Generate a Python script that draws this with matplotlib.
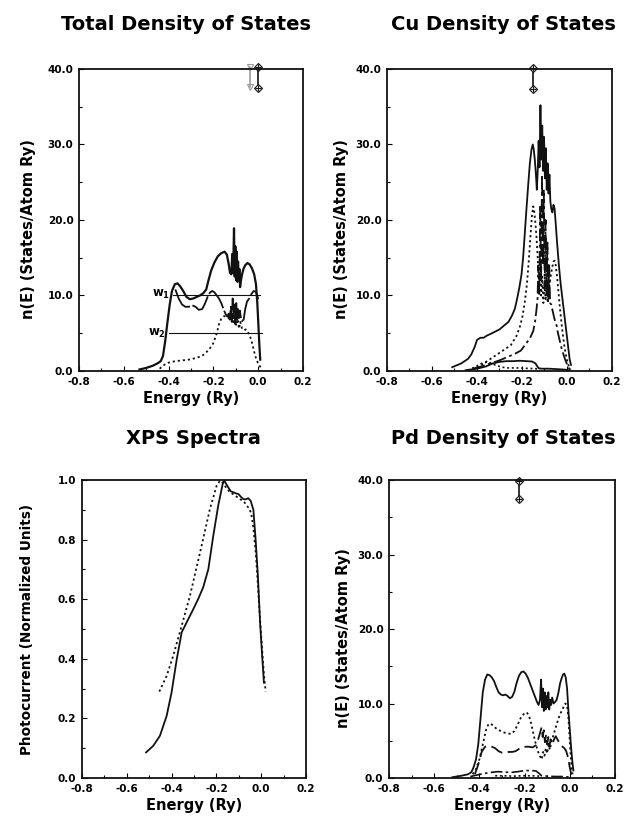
import matplotlib
matplotlib.use('Agg')
import matplotlib.pyplot as plt
from matplotlib.ticker import MultipleLocator, FormatStrFormatter
from matplotlib.transforms import ScaledTranslation

plt.rcParams['font.family'] = 'DejaVu Sans'
plt.rcParams['font.weight'] = 'bold'

#-------------------------------------------------------------------------------
# DATA

#total density of states, upper solid curve
tot_E = [-0.53, -0.50, -0.47, -0.45, -0.435, -0.425, -0.415, -0.405, -0.395, -0.385,
         -0.372, -0.36, -0.348, -0.335, -0.32, -0.305, -0.29, -0.275, -0.26, -0.245,
         -0.232, -0.222, -0.21, -0.195, -0.18, -0.165, -0.15, -0.14, -0.132, -0.126,
         -0.12, -0.116, -0.112, -0.108, -0.105, -0.102, -0.099, -0.096, -0.093, -0.09,
         -0.087, -0.084, -0.081, -0.077, -0.072, -0.066, -0.058, -0.048, -0.038, -0.028,
         -0.018, -0.01, -0.004, 0.001, 0.005, 0.009]
tot_n = [0.2, 0.4, 0.7, 1.0, 1.3, 2.0, 4.0, 6.5, 8.8, 10.6,
         11.5, 11.6, 11.2, 10.6, 9.8, 9.5, 9.6, 9.8, 10.0, 10.3,
         10.8, 12.0, 13.3, 14.4, 15.2, 15.6, 15.8, 15.4, 14.2, 13.0,
         12.8, 15.5, 13.0, 18.9, 12.5, 16.5, 12.0, 15.8, 11.8, 14.5,
         12.0, 13.5, 11.1, 12.0, 12.8, 13.5, 14.0, 14.3, 14.1, 13.6,
         12.8, 11.5, 9.0, 6.0, 3.5, 1.5]

#total density of states, lower long-dash curve
tot2_E = [-0.37, -0.355, -0.34, -0.325, -0.31, -0.295, -0.28, -0.265, -0.25, -0.238,
          -0.226, -0.215, -0.205, -0.195, -0.185, -0.175, -0.165, -0.155, -0.145, -0.138,
          -0.132, -0.127, -0.122, -0.118, -0.114, -0.11, -0.106, -0.102, -0.098, -0.094,
          -0.09, -0.086, -0.082, -0.078, -0.072, -0.065, -0.058, -0.05, -0.04, -0.03,
          -0.02, -0.012, -0.005, 0.0]
tot2_n = [10.8, 9.6, 8.8, 8.5, 8.5, 8.7, 8.5, 8.1, 8.2, 8.9,
          9.8, 10.4, 10.6, 10.4, 10.0, 9.6, 9.0, 8.2, 7.5, 7.2,
          7.6, 6.8, 8.5, 6.5, 9.6, 7.0, 8.8, 6.2, 9.0, 6.8,
          8.2, 7.0, 8.0, 7.2, 6.6, 6.8, 8.2, 9.2, 9.6, 10.2,
          10.6, 10.5, 10.1, 9.5]

#total density of states, dotted curve
totd_E = [-0.44, -0.42, -0.40, -0.37, -0.34, -0.31, -0.28, -0.25, -0.22, -0.20,
          -0.185, -0.175, -0.165, -0.155, -0.145, -0.135, -0.125, -0.118, -0.11, -0.104,
          -0.098, -0.092, -0.086, -0.08, -0.072, -0.064, -0.056, -0.048, -0.04, -0.032,
          -0.024, -0.016, -0.008, 0.0, 0.008, 0.016]
totd_n = [0.3, 0.8, 1.1, 1.3, 1.4, 1.5, 1.7, 2.0, 2.8, 3.7,
          5.0, 6.2, 6.9, 7.2, 7.3, 7.1, 6.8, 7.5, 6.2, 7.0,
          6.0, 7.2, 5.6, 6.5, 5.6, 5.4, 5.5, 5.3, 4.8, 4.2,
          3.3, 2.3, 1.5, 1.0, 0.6, 0.2]

#band width markers w1, w2
w_names = ['w$_1$', 'w$_2$']
w_level = [10.1, 5.0]
w_start = [-0.38, -0.40]
w_end = [0.008, 0.016]

#Cu density of states
cu_E = [-0.51, -0.47, -0.44, -0.425, -0.41, -0.40, -0.385, -0.37, -0.355, -0.34,
        -0.32, -0.30, -0.28, -0.26, -0.245, -0.232, -0.222, -0.212, -0.202, -0.195,
        -0.188, -0.18, -0.172, -0.165, -0.158, -0.152, -0.148, -0.143, -0.138, -0.134,
        -0.13, -0.126, -0.122, -0.118, -0.114, -0.11, -0.106, -0.102, -0.098, -0.094,
        -0.09, -0.086, -0.082, -0.078, -0.074, -0.07, -0.065, -0.06, -0.055, -0.05,
        -0.044, -0.036, -0.028, -0.02, -0.012, -0.004, 0.004, 0.012, 0.018]
cu_n = [0.5, 1.0, 1.6, 2.2, 3.2, 4.1, 4.4, 4.4, 4.7, 4.9,
        5.2, 5.5, 6.0, 6.5, 7.3, 8.2, 9.5, 11.0, 12.8, 15.0,
        18.0, 21.5, 24.8, 27.5, 29.3, 30.0, 29.4, 28.0, 26.0, 24.0,
        26.5, 30.5, 27.0, 35.2, 28.0, 32.5, 26.5, 31.0, 25.5, 29.5,
        24.0, 27.5, 23.5, 26.0, 22.5, 21.5, 21.0, 22.0, 21.5, 19.5,
        17.0, 14.0, 11.5, 9.5, 7.5, 5.5, 3.5, 1.5, 0.8]

cud_E = [-0.40, -0.37, -0.34, -0.31, -0.28, -0.25, -0.225, -0.21, -0.198, -0.188,
         -0.178, -0.17, -0.162, -0.156, -0.15, -0.145, -0.14, -0.135, -0.13, -0.125,
         -0.12, -0.115, -0.11, -0.105, -0.1, -0.095, -0.09, -0.085, -0.08, -0.075,
         -0.07, -0.065, -0.06, -0.055, -0.05, -0.044, -0.038, -0.032, -0.026, -0.02,
         -0.014, -0.008, -0.002, 0.004, 0.01, 0.016]
cud_n = [0.4, 1.0, 1.6, 2.2, 2.8, 3.4, 4.6, 5.8, 7.2, 9.0,
         11.5, 14.5, 18.0, 20.5, 21.8, 21.0, 19.5, 17.5, 15.0, 12.0,
         14.5, 10.0, 12.5, 9.0, 11.5, 9.5, 10.5, 9.0, 11.0, 12.0,
         13.0, 13.8, 14.5, 14.6, 14.0, 12.5, 10.5, 8.5, 6.8, 5.2,
         3.8, 2.6, 1.7, 1.0, 0.5, 0.2]

cudd_E = [-0.42, -0.38, -0.34, -0.30, -0.26, -0.23, -0.205, -0.185, -0.165, -0.15,
          -0.142, -0.136, -0.131, -0.127, -0.123, -0.119, -0.115, -0.111, -0.107, -0.103,
          -0.099, -0.095, -0.091, -0.087, -0.083, -0.079, -0.075, -0.07, -0.064, -0.058,
          -0.052, -0.046, -0.04, -0.032, -0.024, -0.016, -0.008, 0.0, 0.008, 0.015]
cudd_n = [0.3, 0.6, 1.0, 1.4, 1.9, 2.3, 2.7, 3.5, 4.3, 5.3,
          6.5, 8.0, 9.5, 14.0, 10.0, 22.0, 12.0, 26.0, 14.0, 24.0,
          11.0, 20.0, 10.0, 17.0, 9.5, 14.0, 9.0, 8.8, 8.0, 7.2,
          6.5, 6.0, 5.0, 4.0, 3.0, 2.2, 1.5, 0.9, 0.4, 0.1]

cup_E = [-0.45, -0.40, -0.36, -0.33, -0.30, -0.27, -0.24, -0.21, -0.18, -0.155,
         -0.14, -0.132, -0.125, -0.11, -0.08, -0.05, -0.02, 0.0, 0.01]
cup_n = [0.1, 0.3, 0.6, 1.0, 1.2, 1.3, 1.3, 1.35, 1.3, 1.25,
         1.0, 0.6, 0.35, 0.3, 0.3, 0.25, 0.2, 0.15, 0.05]

cus_E = [-0.44, -0.41, -0.38, -0.35, -0.32, -0.29, -0.26, -0.22, -0.18, -0.14, -0.12]
cus_n = [0.1, 0.5, 1.0, 1.2, 0.8, 0.5, 0.4, 0.4, 0.35, 0.3, 0.2]

#Pd density of states
pd_E = [-0.52, -0.48, -0.45, -0.435, -0.425, -0.415, -0.405, -0.395, -0.385, -0.375,
        -0.365, -0.355, -0.345, -0.335, -0.325, -0.315, -0.305, -0.295, -0.285, -0.275,
        -0.265, -0.255, -0.245, -0.235, -0.225, -0.215, -0.205, -0.195, -0.185, -0.175,
        -0.165, -0.155, -0.145, -0.138, -0.132, -0.127, -0.123, -0.119, -0.115, -0.111,
        -0.107, -0.103, -0.099, -0.095, -0.091, -0.087, -0.083, -0.078, -0.072, -0.065,
        -0.058, -0.05, -0.043, -0.036, -0.03, -0.024, -0.018, -0.012, -0.006, 0.0,
        0.006, 0.012, 0.016]
pd_n = [0.1, 0.3, 0.5, 0.8, 1.5, 2.5, 4.5, 8.0, 11.5, 13.2,
        13.9, 13.8, 13.5, 13.0, 12.2, 11.5, 11.2, 11.1, 11.2, 11.0,
        10.7, 10.9, 11.6, 12.8, 13.7, 14.2, 14.3, 14.0, 13.4, 12.6,
        11.8, 11.0, 10.2, 9.8, 10.5, 13.2, 9.5, 12.0, 9.0, 11.5,
        9.2, 11.0, 9.5, 11.5, 9.2, 10.5, 9.8, 10.8, 10.0, 10.2,
        10.5, 11.5, 12.7, 13.4, 13.9, 14.0, 13.5, 12.0, 9.0, 6.5,
        4.0, 2.0, 1.0]

pdd_E = [-0.43, -0.415, -0.40, -0.385, -0.37, -0.36, -0.35, -0.335, -0.32, -0.305,
         -0.29, -0.275, -0.26, -0.245, -0.23, -0.215, -0.2, -0.19, -0.18, -0.17,
         -0.16, -0.15, -0.14, -0.13, -0.124, -0.118, -0.112, -0.106, -0.1, -0.094,
         -0.088, -0.082, -0.075, -0.068, -0.06, -0.052, -0.044, -0.036, -0.028, -0.02,
         -0.012, -0.006, 0.0, 0.006, 0.012]
pdd_n = [0.5, 1.2, 2.5, 4.5, 6.5, 7.2, 7.3, 6.9, 6.5, 6.3,
         6.1, 6.0, 5.9, 6.3, 7.2, 8.2, 8.7, 8.8, 8.3, 7.2,
         5.8, 4.5, 3.5, 2.8, 2.5, 3.5, 3.0, 4.0, 3.3, 4.5,
         3.8, 4.8, 5.5, 6.2, 7.0, 7.8, 8.5, 9.0, 9.5, 10.0,
         9.8, 8.0, 5.0, 2.0, 0.5]

pdl_E = [-0.42, -0.405, -0.39, -0.375, -0.36, -0.345, -0.33, -0.315, -0.3, -0.285,
         -0.27, -0.255, -0.24, -0.225, -0.21, -0.195, -0.18, -0.165, -0.15, -0.14,
         -0.132, -0.125, -0.12, -0.115, -0.11, -0.105, -0.1, -0.095, -0.09, -0.085,
         -0.08, -0.074, -0.068, -0.062, -0.055, -0.048, -0.04, -0.032, -0.024, -0.016,
         -0.008, 0.0, 0.008]
pdl_n = [0.5, 1.8, 3.5, 4.2, 4.3, 4.2, 4.0, 3.6, 3.4, 3.4,
         3.5, 3.5, 3.6, 3.9, 4.1, 4.2, 4.2, 4.1, 4.4, 5.2,
         6.0, 6.8, 5.5, 6.4, 4.8, 5.8, 4.5, 5.5, 4.2, 5.2,
         4.6, 4.8, 5.3, 5.6, 5.2, 4.8, 4.4, 4.2, 4.0, 3.6,
         2.8, 1.4, 0.3]

pdp_E = [-0.44, -0.41, -0.38, -0.35, -0.32, -0.29, -0.26, -0.23, -0.2, -0.17,
         -0.15, -0.135, -0.125, -0.1, -0.07, -0.04, -0.01, 0.005]
pdp_n = [0.2, 0.4, 0.6, 0.75, 0.85, 0.8, 0.75, 0.85, 1.0, 1.0,
         0.95, 0.6, 0.3, 0.25, 0.2, 0.2, 0.15, 0.05]

pds_E = [-0.33, -0.29, -0.25, -0.21, -0.17, -0.13]
pds_n = [0.3, 0.3, 0.25, 0.3, 0.3, 0.25]

#XPS spectra
xps_E = [-0.514, -0.482, -0.452, -0.422, -0.40, -0.377, -0.355, -0.333, -0.303, -0.28,
         -0.259, -0.236, -0.214, -0.192, -0.172, -0.165, -0.155, -0.147, -0.136, -0.125,
         -0.113, -0.102, -0.09, -0.08, -0.069, -0.058, -0.047, -0.035, -0.025, -0.015,
         -0.005, 0.005, 0.012]
xps_v = [0.086, 0.108, 0.142, 0.209, 0.288, 0.399, 0.489, 0.522, 0.567, 0.603,
         0.64, 0.701, 0.813, 0.914, 0.987, 0.998, 0.985, 0.975, 0.962, 0.959,
         0.955, 0.953, 0.943, 0.936, 0.935, 0.939, 0.93, 0.90, 0.80, 0.68,
         0.52, 0.40, 0.32]

xpsd_E = [-0.455, -0.422, -0.393, -0.355, -0.318, -0.273, -0.229, -0.199, -0.184, -0.17,
          -0.155, -0.139, -0.117, -0.095, -0.075, -0.058, -0.045, -0.035, -0.025, -0.015,
          -0.005, 0.005, 0.013, 0.02]
xpsd_v = [0.29, 0.343, 0.41, 0.511, 0.612, 0.757, 0.903, 0.981, 0.998, 0.99,
          0.972, 0.959, 0.948, 0.936, 0.925, 0.908, 0.89, 0.84, 0.76, 0.65,
          0.53, 0.42, 0.34, 0.29]

#markers at the top of the DOS panels (energy, top value, bottom value)
mk_tot = [(-0.037, 40.2, 37.6, 'faint'), (0.0, 40.2, 37.5, 'full')]
mk_cu = [(-0.151, 40.1, 37.4, 'full')]
mk_pd = [(-0.225, 39.9, 37.4, 'full')]

#-------------------------------------------------------------------------------
# STYLE

DOT = (0, (1.2, 1.6))
LDASH = (0, (14, 1.5))
DASHDOT = (0, (7, 2, 1.5, 2))
DASH = (0, (7, 3))
K = '#111111'

#-------------------------------------------------------------------------------
# FUNCTIONS

def style_axes(ax, ylim, ymaj, ymin_, yfmt, ylabel, ylab_x, ylab_y):
    ax.set_xlim(-0.8, 0.2)
    ax.set_ylim(*ylim)
    ax.xaxis.set_major_locator(MultipleLocator(0.2))
    ax.xaxis.set_minor_locator(MultipleLocator(0.1))
    ax.yaxis.set_major_locator(MultipleLocator(ymaj))
    ax.yaxis.set_minor_locator(MultipleLocator(ymin_))
    ax.xaxis.set_major_formatter(FormatStrFormatter('%.1f'))
    ax.yaxis.set_major_formatter(FormatStrFormatter(yfmt))
    ax.tick_params(which='both', direction='in', top=False, right=False,
                   labelsize=7.5, width=0.8)
    ax.tick_params(which='major', length=3.5, pad=4)
    ax.tick_params(which='minor', length=2)
    for s in ax.spines.values():
        s.set_linewidth(1.3)
        s.set_color(K)
    ax.set_xlabel('Energy (Ry)', fontsize=10.5, fontweight='bold')
    ax.xaxis.set_label_coords(0.5, -0.068)
    ax.set_ylabel(ylabel, fontsize=10.5, fontweight='bold')
    ax.yaxis.set_label_coords(ylab_x, ylab_y)
    #end tick labels of the scan sit a little to the right
    labs = ax.get_xticklabels()
    fig = ax.figure
    labs[0].set_transform(labs[0].get_transform() + ScaledTranslation(6/72, 0, fig.dpi_scale_trans))
    labs[-1].set_transform(labs[-1].get_transform() + ScaledTranslation(3/72, 0, fig.dpi_scale_trans))

def draw_markers(ax, marks):
    for E, top, bot, kind in marks:
        c = '#999999' if kind == 'faint' else K
        ax.plot([E, E], [top, bot], color=c, lw=1.2, clip_on=False)
        if kind == 'faint':
            ax.plot([E, E], [top, bot], 'v', ms=4.5, mfc='none', mec=c, mew=0.8, clip_on=False)
        else:
            ax.plot([E, E], [top, bot], 'D', ms=4, mfc='white', mec=c, mew=0.8, clip_on=False)
            ax.plot([E, E], [top, bot], '+', ms=5, mec=c, mew=0.8, clip_on=False)

#-------------------------------------------------------------------------------
# MAIN

fig = plt.figure(figsize=(6.28, 8.18), dpi=100)
ax_tot = fig.add_axes([0.1258, 0.5465, 0.3567, 0.3692])
ax_cu = fig.add_axes([0.6162, 0.5465, 0.3583, 0.3692])
ax_xps = fig.add_axes([0.1306, 0.0489, 0.3567, 0.3643])
ax_pd = fig.add_axes([0.6194, 0.0489, 0.3599, 0.3643])

nlab = 'n(E) (States/Atom Ry)'

#total DOS
ax = ax_tot
ax.plot(tot_E, tot_n, color=K, lw=1.6)
ax.plot(tot2_E, tot2_n, color=K, lw=1.3, ls=LDASH)
ax.plot(totd_E, totd_n, color=K, lw=1.3, ls=DOT)
for name, lev, a, b in zip(w_names, w_level, w_start, w_end):
    ax.plot([a, b], [lev, lev], color=K, lw=0.8)
    ax.text(a - 0.012, lev, name, ha='right', va='center', fontsize=8.5, fontweight='bold')
draw_markers(ax, mk_tot)
style_axes(ax, (0, 40), 10, 5, '%.1f', nlab, -0.19, 0.47)

#Cu DOS
ax = ax_cu
ax.plot(cu_E, cu_n, color=K, lw=1.3)
ax.plot(cud_E, cud_n, color=K, lw=1.3, ls=DOT)
ax.plot(cudd_E, cudd_n, color=K, lw=1.3, ls=DASHDOT)
ax.plot(cup_E, cup_n, color=K, lw=1.3)
ax.plot(cus_E, cus_n, color=K, lw=1.2, ls=DOT)
draw_markers(ax, mk_cu)
style_axes(ax, (0, 40), 10, 5, '%.1f', nlab, -0.17, 0.47)

#XPS spectra
ax = ax_xps
ax.plot(xps_E, xps_v, color=K, lw=1.3)
ax.plot(xpsd_E, xpsd_v, color=K, lw=1.3, ls=DOT)
style_axes(ax, (0, 1), 0.2, 0.1, '%.1f', 'Photocurrent (Normalized Units)', -0.215, 0.5)
ax.yaxis.label.set_fontsize(9.8)

#Pd DOS
ax = ax_pd
ax.plot(pd_E, pd_n, color=K, lw=1.3)
ax.plot(pdd_E, pdd_n, color=K, lw=1.3, ls=DOT)
ax.plot(pdl_E, pdl_n, color=K, lw=1.3, ls=DASH)
ax.plot(pdp_E, pdp_n, color=K, lw=1.2, ls=DASHDOT)
ax.plot(pds_E, pds_n, color=K, lw=1.2, ls=DOT)
draw_markers(ax, mk_pd)
style_axes(ax, (0, 40), 10, 5, '%.1f', nlab, -0.17, 0.47)

fig.text(186/628, 1 - 24/818, 'Total Density of States', ha='center', va='center',
         fontsize=14, fontweight='bold')
fig.text(503/628, 1 - 24/818, 'Cu Density of States', ha='center', va='center',
         fontsize=14, fontweight='bold')
fig.text(193/628, 1 - 438/818, 'XPS Spectra', ha='center', va='center',
         fontsize=14, fontweight='bold')
fig.text(503/628, 1 - 438/818, 'Pd Density of States', ha='center', va='center',
         fontsize=14, fontweight='bold')

fig.savefig('out.png', dpi=100)
